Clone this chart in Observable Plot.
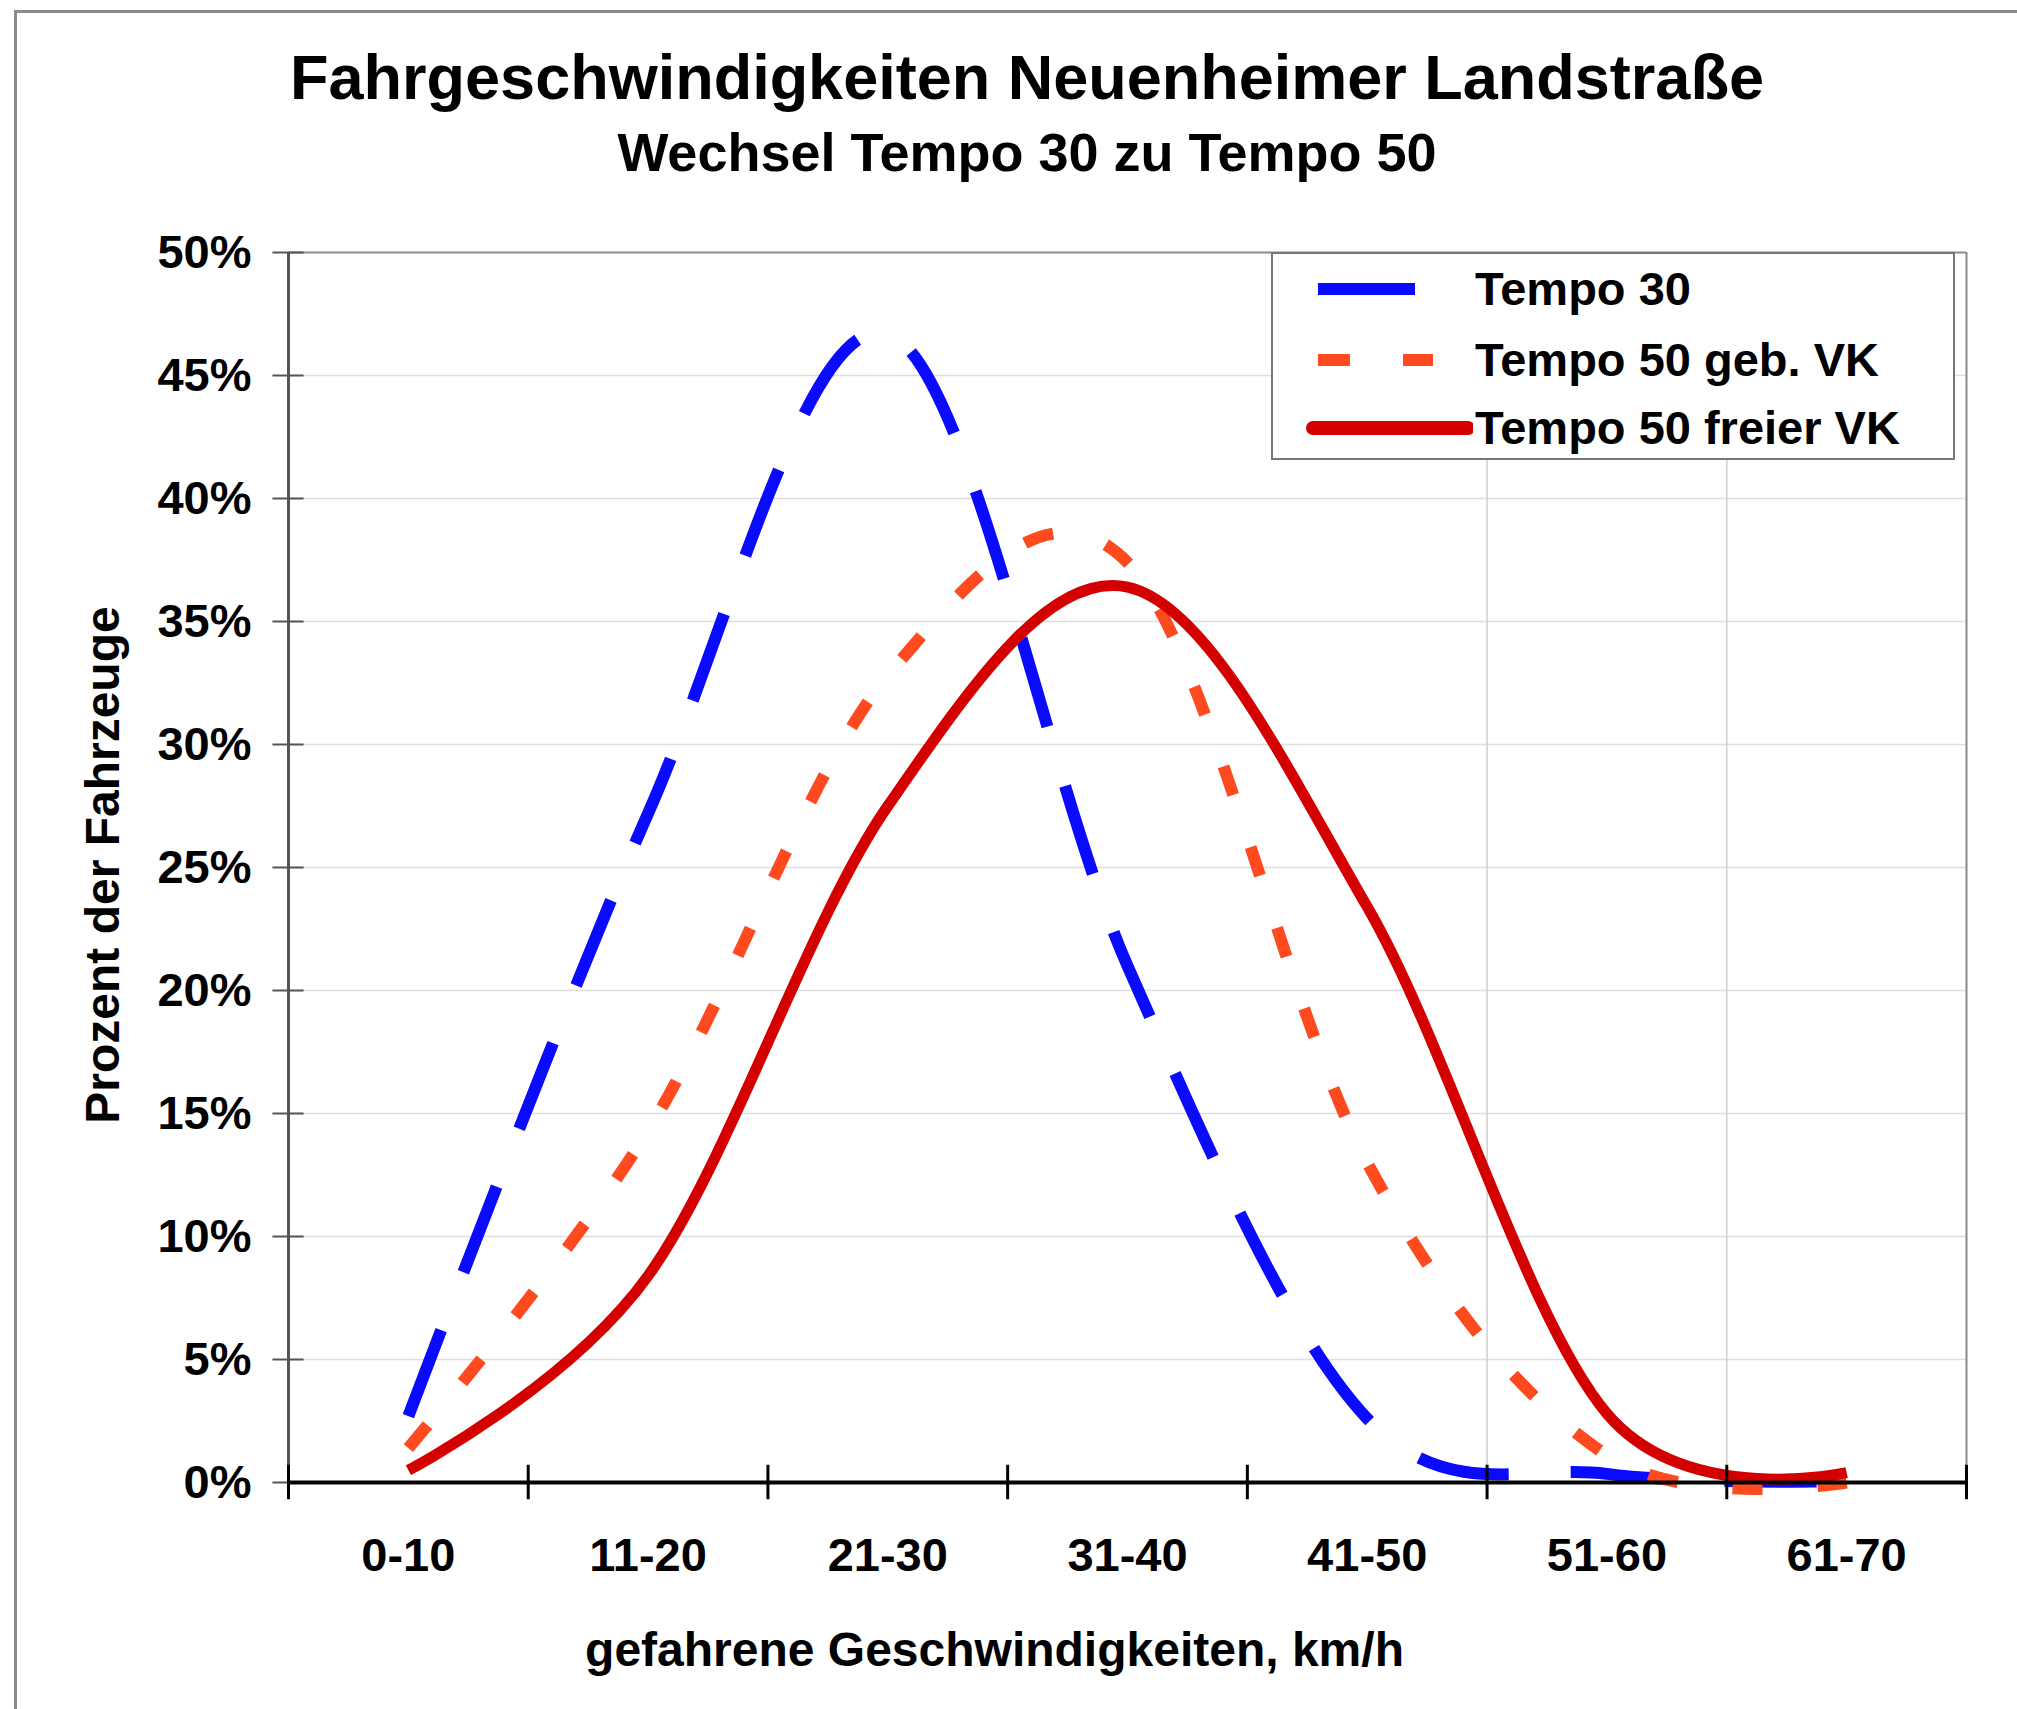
<!DOCTYPE html>
<html>
<head>
<meta charset="utf-8">
<script src="https://cdn.jsdelivr.net/npm/d3@7"></script>
<script src="https://cdn.jsdelivr.net/npm/@observablehq/plot@0.6"></script>
<style>
  html, body { margin: 0; padding: 0; background: #fff; }
  body { width: 2017px; height: 1709px; overflow: hidden; font-family: "Liberation Sans", Arial, Helvetica, sans-serif; }
  #wrap { position: relative; width: 2017px; height: 1709px; }
  #frame { position: absolute; left: 14px; top: 10px; width: 2100px; height: 1800px; border-left: 3px solid #8a8a8a; border-top: 3px solid #8a8a8a; box-sizing: border-box; }
  .t { position: absolute; left: 0; width: 2054px; text-align: center; font-weight: bold; color: #000; line-height: 1; white-space: nowrap; }
  #title { top: 46px; font-size: 63px; }
  #subtitle { top: 125px; font-size: 54px; }
  #ytitle { position: absolute; left: 103px; top: 865px; transform: translate(-50%, -50%) rotate(-90deg); font-size: 48px; font-weight: bold; line-height: 1; white-space: nowrap; color: #000; }
  #chart { position: absolute; left: 0; top: 200px; }
  #legend { position: absolute; left: 1271px; top: 252px; width: 684px; height: 208px; border: 2px solid #777; background: #fff; box-sizing: border-box; }
  .row { position: absolute; left: 0; height: 60px; width: 680px; }
  .row svg { position: absolute; left: 30px; top: 0; }
  .row span { position: absolute; left: 202px; top: 6px; font-size: 47px; font-weight: bold; line-height: 1; white-space: nowrap; color: #000; }
</style>
</head>
<body>
<div id="wrap">
  <div id="frame"></div>
  <div class="t" id="title"></div>
  <div class="t" id="subtitle"></div>
  <div id="chart"></div>
  <div id="ytitle"></div>
  <div id="legend"></div>
</div>
<script>
// ---- data ----
const titleText = "Fahrgeschwindigkeiten Neuenheimer Landstraße";
const subtitleText = "Wechsel Tempo 30 zu Tempo 50";
const xTitle = "gefahrene Geschwindigkeiten, km/h";
const yTitle = "Prozent der Fahrzeuge";
const categories = ["0-10", "11-20", "21-30", "31-40", "41-50", "51-60", "61-70"];
const seriesNames = ["Tempo 30", "Tempo 50 geb. VK", "Tempo 50 freier VK"];
const tempo30 = [2.7, 27.2, 46.7, 21.0, 2.6, 0.35, 0.05];
const tempo50geb = [1.4, 14.3, 32.8, 37.4, 13.0, 1.1, 0.0];
const tempo50frei = [0.5, 8.4, 27.5, 36.4, 23.4, 2.8, 0.4];
const yTicks = [0, 5, 10, 15, 20, 25, 30, 35, 40, 45, 50];
const yTickLabels = ["0%", "5%", "10%", "15%", "20%", "25%", "30%", "35%", "40%", "45%", "50%"];
const vGrid = [5, 6];

// ---- styles ----
const colors = ["#0a0aff", "#ff4a1f", "#d40000"];
const dashes = ["92,62", "30,55", null];
const widths = [12, 12, 11];

document.getElementById("title").textContent = titleText;
document.getElementById("subtitle").textContent = subtitleText;
document.getElementById("ytitle").textContent = yTitle;

const seriesValues = [tempo30, tempo50geb, tempo50frei];
const rows = [];
seriesValues.forEach((vals, s) => vals.forEach((v, i) => rows.push({series: seriesNames[s], s, i, x: i + 0.5, y: v})));

const boundaries = d3.range(categories.length + 1);
const centers = categories.map((c, i) => i + 0.5);

const lineMarks = seriesNames.map((name, s) =>
  Plot.line(rows.filter(d => d.s === s), {
    x: "x", y: "y",
    curve: "cardinal", tension: 0,
    stroke: colors[s], strokeWidth: widths[s],
    strokeDasharray: dashes[s] || undefined,
    strokeLinecap: "butt", strokeLinejoin: "round"
  })
);

const chart = Plot.plot({
  width: 2017,
  height: 1509,
  marginLeft: 288,
  marginRight: 51,
  marginTop: 52,
  marginBottom: 227,
  style: {background: "transparent", fontFamily: "'Liberation Sans', Arial, sans-serif", color: "#000"},
  x: {domain: [0, categories.length], axis: null, label: null},
  y: {domain: [0, 50], axis: null, label: null},
  marks: [
    Plot.ruleY(yTicks.filter(d => d > 0 && d < 50), {stroke: "#dedede", strokeWidth: 1.5}),
    Plot.ruleX(vGrid, {stroke: "#cfcfcf", strokeWidth: 1.5}),
    Plot.ruleY([50], {stroke: "#8a8a8a", strokeWidth: 2}),
    Plot.ruleX([categories.length], {stroke: "#8a8a8a", strokeWidth: 2}),
    Plot.ruleX([0], {stroke: "#555", strokeWidth: 3}),
    Plot.ruleY(yTicks, {x1: -0.065, x2: 0.065, stroke: "#555", strokeWidth: 2}),
    ...lineMarks,
    Plot.ruleY([0], {stroke: "#000", strokeWidth: 4}),
    Plot.ruleX(boundaries, {y1: -0.7, y2: 0.7, stroke: "#000", strokeWidth: 3}),
    Plot.axisY(yTicks, {label: null, tickSize: 0, tickPadding: 37, tickFormat: (d) => yTickLabels[yTicks.indexOf(d)], fontSize: 47, fontWeight: "bold", fill: "#000"}),
    Plot.axisX(centers, {label: null, tickSize: 0, tickPadding: 55, tickFormat: (d) => categories[Math.floor(d)], fontSize: 47, fontWeight: "bold", fill: "#000"}),
    Plot.text([xTitle], {frameAnchor: "bottom", dx: -133, dy: 168, text: d => d, fontSize: 48, fontWeight: "bold", fill: "#000", lineAnchor: "middle"})
  ]
});
document.getElementById("chart").appendChild(chart);

// ---- legend ----
const legend = document.getElementById("legend");
const rowTops = [5, 76, 144];
seriesNames.forEach((name, s) => {
  const row = document.createElement("div");
  row.className = "row";
  row.style.top = rowTops[s] + "px";
  const svg = d3.create("svg").attr("width", 170).attr("height", 60);
  const x1 = s === 2 ? 10 : 15, x2 = s === 0 ? 112 : (s === 1 ? 130 : 165);
  svg.append("line").attr("x1", x1).attr("x2", x2).attr("y1", 30).attr("y2", 30)
    .attr("stroke", colors[s]).attr("stroke-width", s === 2 ? 14 : 12)
    .attr("stroke-linecap", s === 2 ? "round" : "butt")
    .attr("stroke-dasharray", s === 1 ? "32,53" : null);
  row.appendChild(svg.node());
  const span = document.createElement("span");
  span.textContent = name;
  row.appendChild(span);
  legend.appendChild(row);
});
</script>
</body>
</html>
